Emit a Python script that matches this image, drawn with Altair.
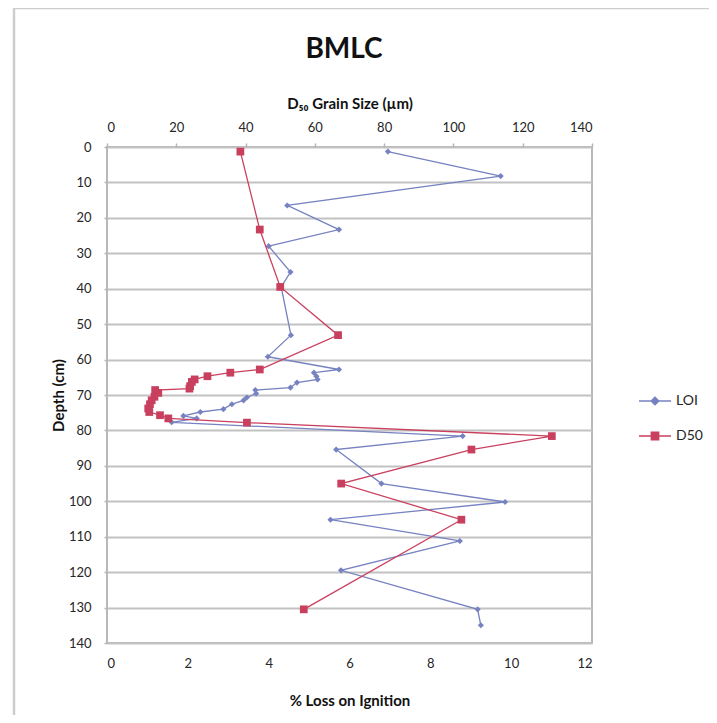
import altair as alt
import pandas as pd

# ---------------- data ----------------
chart_title = "BMLC"
series_names = ["LOI", "D50"]

loi_depth = [1.3, 8.2, 16.5, 23.3, 28.0, 35.3, 39.5, 53.1, 59.2, 62.8, 63.7, 64.7,
             65.6, 66.5, 67.9, 68.6, 69.6, 70.7, 71.5, 72.6, 74.0, 74.8, 75.9, 76.6,
             77.7, 81.6, 85.4, 95.0, 100.2, 105.2, 111.2, 119.5, 130.5, 135.0]
loi_values = [6.95, 9.74, 4.46, 5.74, 4.00, 4.54, 4.31, 4.55, 3.98, 5.74, 5.12, 5.18,
              5.21, 4.70, 4.54, 3.67, 3.69, 3.46, 3.38, 3.09, 2.88, 2.31, 1.89, 2.22,
              1.60, 8.80, 5.67, 6.79, 9.85, 5.53, 8.73, 5.79, 9.17, 9.25]

d50_depth = [1.3, 23.3, 39.5, 53.1, 62.8, 63.7, 64.7, 65.6, 66.3, 67.5, 68.2, 68.6,
             69.4, 70.5, 71.5, 72.6, 73.8, 74.8, 75.7, 76.6, 77.8, 81.6, 85.4, 95.0,
             105.2, 130.5]
d50_values = [38.5, 44.1, 50.0, 66.7, 44.1, 35.6, 29.0, 25.3, 24.5, 24.0, 23.8, 13.9,
              14.8, 13.7, 12.9, 12.4, 11.9, 12.2, 15.3, 17.7, 40.4, 128.4, 105.2, 67.6,
              102.3, 56.8]

loi_ticks = [0, 2, 4, 6, 8, 10, 12]
d50_ticks = [0, 20, 40, 60, 80, 100, 120, 140]
depth_ticks = [0, 10, 20, 30, 40, 50, 60, 70, 80, 90, 100, 110, 120, 130, 140]

loi_df = pd.DataFrame({"depth": loi_depth, "loi": loi_values,
                       "seq": list(range(len(loi_depth)))})
d50_df = pd.DataFrame({"depth": d50_depth, "d50": d50_values,
                       "seq": list(range(len(d50_depth)))})
legend_df = pd.DataFrame({"series": series_names})
frame_df = pd.DataFrame({"k": [0]})
title_df = pd.DataFrame({"t": [chart_title]})

# ---------------- style ----------------
BLUE = "#7682c1"
RED = "#c9405f"
FONT = "Lato"
TXT = "#262626"
GRID = "#c2c2c2"

y_axis = alt.Axis(values=depth_ticks, title="Depth (cm)", grid=True, gridColor=GRID,
                  gridWidth=2, domain=False, tickSize=3, tickColor="#b5b5b5",
                  tickWidth=1.5, labelPadding=13, titlePadding=2)
y_scale = alt.Scale(domain=[0, 140], reverse=True, nice=False, zero=False)
y_enc = alt.Y("depth:Q", scale=y_scale, axis=y_axis)

loi_x = alt.X("loi:Q", scale=alt.Scale(domain=[0, 12], nice=False),
              axis=alt.Axis(orient="bottom", values=loi_ticks, title="% Loss on Ignition",
                            grid=False, domain=False, ticks=False, tickSize=0,
                            labelPadding=14, titlePadding=23))
d50_x = alt.X("d50:Q", scale=alt.Scale(domain=[0, 140], nice=False),
              axis=alt.Axis(orient="top", values=d50_ticks, title="D₅₀ Grain Size (µm)",
                            grid=False, domain=False, tickSize=4, tickColor="#b5b5b5",
                            tickWidth=1.5, labelPadding=9, titlePadding=10))

loi_line = alt.Chart(loi_df).mark_line(color=BLUE, strokeWidth=1.3).encode(
    x=loi_x, y=y_enc, order="seq:Q")
loi_pts = alt.Chart(loi_df).mark_point(shape="diamond", filled=True, color=BLUE,
                                       size=38, opacity=1).encode(x=loi_x, y=y_enc)

d50_line = alt.Chart(d50_df).mark_line(color=RED, strokeWidth=1.3).encode(
    x=d50_x, y=y_enc, order="seq:Q")
d50_pts = alt.Chart(d50_df).mark_point(shape="square", filled=True, color=RED,
                                       size=60, opacity=1).encode(x=d50_x, y=y_enc)

# outer chart frame (decoration)
frame = alt.Chart(frame_df).mark_rect(fillOpacity=0, stroke="#cdcdcd", strokeWidth=2.5).encode(
    x=alt.value(-93), x2=alt.value(606), y=alt.value(-139), y2=alt.value(600))

# chart title as text above the top axis
title_mark = alt.Chart(title_df).mark_text(
    font=FONT, fontSize=28, fontWeight="bold", color="#111111",
    align="center", baseline="middle").encode(
    text="t:N", x=alt.value(237), y=alt.value(-97))

# legend: line + marker symbols
legend_spec = alt.Legend(orient="none", legendX=531, legendY=237, title=None,
                         symbolSize=1024, symbolStrokeWidth=1.4, symbolOpacity=1,
                         labelFont=FONT, labelFontSize=14, labelColor=TXT,
                         labelOffset=4, rowPadding=11, padding=0)
paths = ["M-1,0L1,0M-0.24,0L0,-0.24L0.24,0L0,0.24Z",
         "M-1,0L1,0M-0.23,-0.23L0.23,-0.23L0.23,0.23L-0.23,0.23Z"]
legend_layer = alt.Chart(legend_df).mark_point(filled=True).encode(
    fill=alt.Fill("series:N", scale=alt.Scale(domain=series_names, range=[BLUE, RED]),
                  legend=legend_spec),
    stroke=alt.Stroke("series:N", scale=alt.Scale(domain=series_names, range=[BLUE, RED]),
                      legend=legend_spec),
    shape=alt.Shape("series:N", scale=alt.Scale(domain=series_names, range=paths),
                    legend=legend_spec),
).transform_filter("false")

loi_group = alt.layer(frame, title_mark, loi_line, loi_pts, legend_layer)
d50_group = alt.layer(d50_line, d50_pts)

chart = alt.layer(loi_group, d50_group).resolve_scale(x="independent").properties(
    width=485, height=496,
    autosize=alt.AutoSizeParams(type="none"),
    padding={"left": 99, "top": 139, "right": 117, "bottom": 72},
).configure_view(stroke="#b8b8b8", strokeWidth=2).configure_axis(
    labelFont=FONT, labelFontSize=13, labelColor=TXT,
    titleFont=FONT, titleFontSize=15, titleFontWeight="bold", titleColor="#111111",
)

chart.save("out.html", embed_options={"renderer": "svg", "actions": False})
